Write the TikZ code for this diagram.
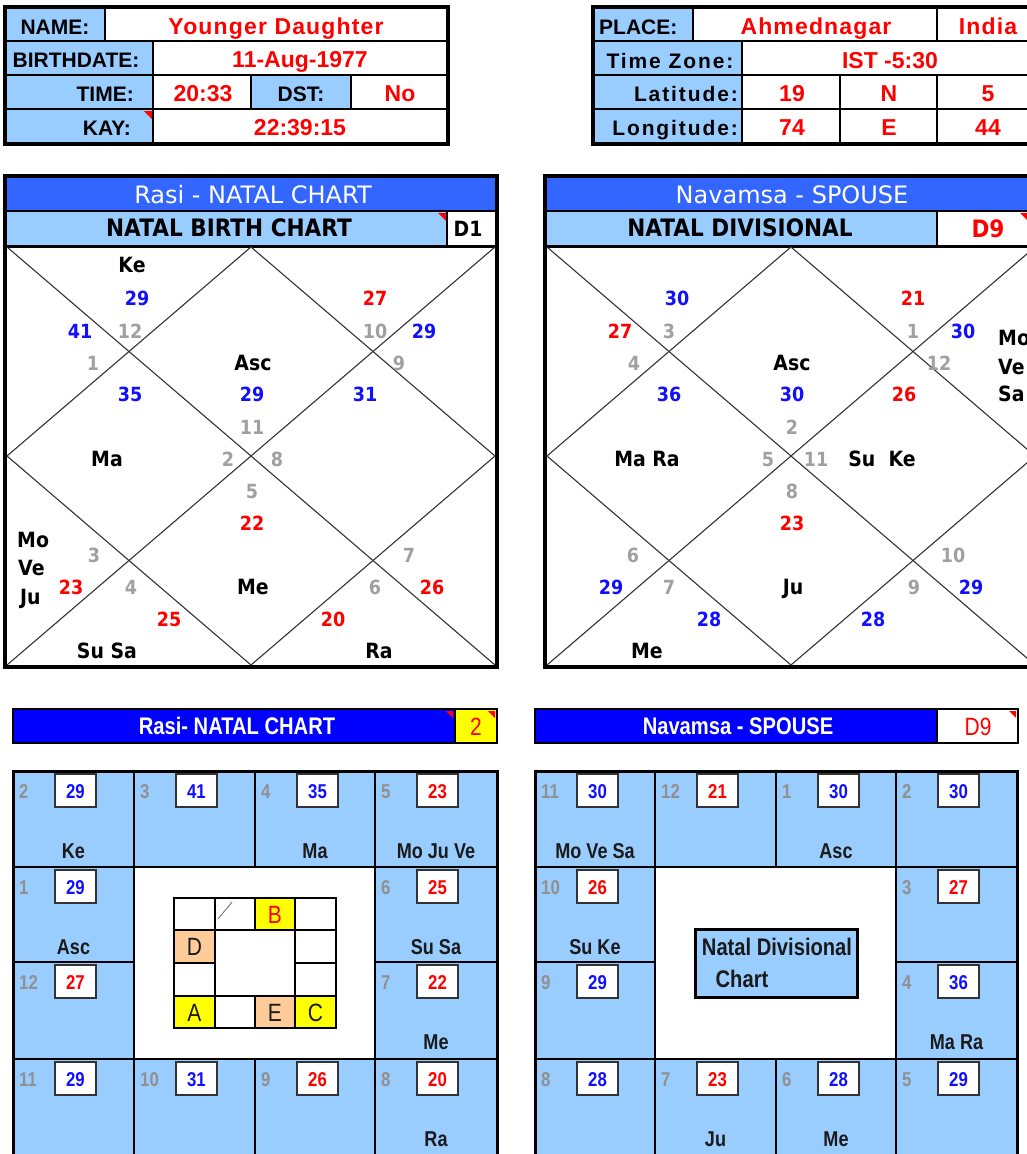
\documentclass[tikz,border=0pt]{standalone}
\usepackage{fontspec}
\setmainfont{Liberation Sans}
\newfontfamily\arls[LetterSpace=5]{Liberation Sans}
\newfontfamily\arlw[LetterSpace=9]{Liberation Sans}
\newfontfamily\tah[FakeStretch=0.9]{DejaVu Sans}
\newfontfamily\tahr{DejaVu Sans}
\newfontfamily\nar[FakeStretch=0.84]{Liberation Sans}
\definecolor{lb}{HTML}{99CCFF}
\definecolor{hb}{HTML}{3366FF}
\definecolor{bb}{HTML}{0000FF}
\definecolor{rd}{HTML}{FF0000}
\definecolor{nb}{HTML}{1010FF}
\definecolor{gr}{HTML}{A0A0A0}
\definecolor{gh}{HTML}{909090}
\definecolor{yl}{HTML}{FFFF00}
\definecolor{pc}{HTML}{FFCC99}
\definecolor{dl}{HTML}{333333}
\definecolor{pk}{HTML}{1A1A1A}
\newcounter{nn}
\newcommand\tx[4]{\stepcounter{nn}\node[#1] (t\arabic{nn}) at (#2,#3) {#4};}
% grid cell: x0 y0 x1 y1 house numcolor degree planets
\newcommand\gc[8]{%
 \stepcounter{nn}%
 \draw[gcell] (#1,#2) rectangle (#3,#4);
 \node[ghs, anchor=west] (h\arabic{nn}) at ({#1+6},{#2+20}) {#5};
 \draw[wbox] ({#1+42},{#2+3}) rectangle ({#1+83},{#2+36});
 \node[gn, text=#6] (d\arabic{nn}) at ({#1+62.5},{#2+20}) {#7};
 \node[gp] (p\arabic{nn}) at ({(#1+#3)/2},{#2+80}) {#8};
}
% inner small grid cell: x0 y0 x1 y1 fill text colour
\newcommand\ic[7]{%
 \stepcounter{nn}%
 \draw[ibox, fill=#5] (#1,#2) rectangle (#3,#4);
 \node[il, text=#7] (i\arabic{nn}) at ({(#1+#3)/2},{(#2+#4)/2}) {#6};
}
\tikzset{
 cellb/.style={draw=black, line width=2.6},
 lab/.style={inner sep=0, anchor=base, font=\fontsize{21}{21}\selectfont\bfseries},
 labw/.style={lab, font=\arlw\fontsize{21}{21}\selectfont\bfseries},
 val/.style={inner sep=0, anchor=base, text=rd, font=\fontsize{23}{23}\selectfont\bfseries},
 vals/.style={val, font=\arls\fontsize{23}{23}\selectfont\bfseries},
 hdr/.style={inner sep=0, text=white, font=\tahr\fontsize{24}{24}\selectfont, text height=17.5, text depth=0},
 sub/.style={inner sep=0, font=\tah\fontsize{24}{24}\selectfont\bfseries, text height=17.5, text depth=0},
 dp/.style={inner sep=0, font=\tah\fontsize{21}{21}\selectfont\bfseries, text height=15.3, text depth=0},
 dnum/.style={inner sep=0, font=\tah\fontsize{19.5}{19.5}\selectfont\bfseries, text height=14.2, text depth=0},
 db/.style={dnum, text=nb},
 dr/.style={dnum, text=rd},
 dg/.style={dnum, text=gr},
 dline/.style={draw=dl, line width=1.1},
 gcell/.style={draw=black, line width=2.6, fill=lb},
 wbox/.style={draw=black!80, line width=1.3, fill=white},
 ghs/.style={inner sep=0, text=gh, font=\nar\fontsize{20}{20}\selectfont\bfseries, text height=14.3, text depth=0},
 gn/.style={inner sep=0, font=\nar\fontsize{20}{20}\selectfont\bfseries, text height=14.3, text depth=0},
 gp/.style={inner sep=0, text=pk, font=\nar\fontsize{21.5}{21.5}\selectfont\bfseries, text height=15.4, text depth=0},
 bh/.style={inner sep=0, text=white, font=\nar\fontsize{24}{24}\selectfont\bfseries, text height=17.3, text depth=0},
 bv/.style={inner sep=0, text=rd, font=\nar\fontsize{25}{25}\selectfont, text height=18, text depth=0},
 ibox/.style={draw=black, line width=2.6},
 il/.style={inner sep=0, font=\nar\fontsize{25}{25}\selectfont, text height=18, text depth=0},
 ctext/.style={inner sep=0, text=pk, font=\nar\fontsize{24}{24}\selectfont\bfseries, text height=17.3, text depth=0},
}
\begin{document}
\begin{tikzpicture}[x=1pt,y=-1pt]
\useasboundingbox (0,0) rectangle (1027,1154);
\clip (0,0) rectangle (1027,1154);
\fill[white] (0,0) rectangle (1027,1154);

% ---------- top-left table ----------
\draw[cellb,fill=lb] (5,7) rectangle (105,41);
\draw[cellb,fill=white] (105,7) rectangle (448,41);
\draw[cellb,fill=lb] (5,41) rectangle (153,75);
\draw[cellb,fill=white] (153,41) rectangle (448,75);
\draw[cellb,fill=lb] (5,75) rectangle (153,109);
\draw[cellb,fill=white] (153,75) rectangle (251,109);
\draw[cellb,fill=lb] (251,75) rectangle (351,109);
\draw[cellb,fill=white] (351,75) rectangle (448,109);
\draw[cellb,fill=lb] (5,109) rectangle (153,144);
\draw[cellb,fill=white] (153,109) rectangle (448,144);
\fill[rd] (144,111) -- (152,111) -- (152,119) -- cycle;
\draw[line width=3.2] (5,7) rectangle (448,144);
\tx{lab}{55}{34}{NAME:}
\tx{vals}{276}{34}{Younger Daughter}
\tx{lab}{76}{67}{BIRTHDATE:}
\tx{val}{300}{67}{11-Aug-1977}
\tx{lab,anchor=base east}{134}{101}{TIME:}
\tx{val}{203}{101}{20:33}
\tx{lab}{301}{101}{DST:}
\tx{val}{400}{101}{No}
\tx{lab,anchor=base east}{131}{135}{KAY:}
\tx{val}{300}{135}{22:39:15}

% ---------- top-right table ----------
\draw[cellb,fill=lb] (593,7) rectangle (693,41);
\draw[cellb,fill=white] (693,7) rectangle (937,41);
\draw[cellb,fill=white] (937,7) rectangle (1040,41);
\draw[cellb,fill=lb] (593,41) rectangle (742,75);
\draw[cellb,fill=white] (742,41) rectangle (1040,75);
\draw[cellb,fill=lb] (593,75) rectangle (742,109);
\draw[cellb,fill=white] (742,75) rectangle (840,109);
\draw[cellb,fill=white] (840,75) rectangle (937,109);
\draw[cellb,fill=white] (937,75) rectangle (1040,109);
\draw[cellb,fill=lb] (593,109) rectangle (742,144);
\draw[cellb,fill=white] (742,109) rectangle (840,144);
\draw[cellb,fill=white] (840,109) rectangle (937,144);
\draw[cellb,fill=white] (937,109) rectangle (1040,144);
\draw[line width=3.2] (593,7) rectangle (1040,144);
\tx{lab,anchor=base west}{599}{34}{PLACE:}
\tx{vals}{816}{34}{Ahmednagar}
\tx{vals}{988}{34}{India}
\tx{labw}{670}{68}{Time Zone:}
\tx{val}{890}{68}{IST -5:30}
\tx{labw,anchor=base east}{738}{101}{Latitude:}
\tx{val}{792}{101}{19}
\tx{val}{889}{101}{N}
\tx{val}{988}{101}{5}
\tx{labw,anchor=base east}{738}{135}{Longitude:}
\tx{val}{792}{135}{74}
\tx{val}{889}{135}{E}
\tx{val}{988}{135}{44}

% ---------- left diamond chart ----------
\fill[white] (5,176) rectangle (497,667);
\fill[hb] (6,177) rectangle (496,211);
\fill[lb] (6,211) rectangle (447,246);
\draw[line width=2.6] (5,211) -- (497,211);
\draw[line width=2.6] (447,211) -- (447,246);
\draw[line width=2.6] (5,246.5) -- (497,246.5);
\fill[rd] (438,213) -- (446,213) -- (446,221) -- cycle;
\draw[dline] (7,247) -- (495,665);
\draw[dline] (7,665) -- (495,247);
\draw[dline] (251,247) -- (495,456) -- (251,665) -- (7,456) -- cycle;
\draw[line width=3.2] (5,176) rectangle (497,667);
\tx{hdr}{253}{195}{Rasi - NATAL CHART}
\tx{sub}{229}{228}{NATAL BIRTH CHART}
\tx{sub,font=\tah\fontsize{21}{21}\selectfont\bfseries,text height=15.3}{468}{229}{D1}
% planets
\tx{dp}{132}{265}{Ke}
\tx{dp}{253}{363}{Asc}
\tx{dp}{107}{459}{Ma}
\tx{dp}{253}{587}{Me}
\tx{dp}{107}{651}{Su Sa}
\tx{dp}{379}{651}{Ra}
\tx{dp,anchor=west}{17}{540}{Mo}
\tx{dp,anchor=west}{18}{568}{Ve}
\tx{dp,anchor=west}{20}{597}{Ju}
% degrees
\tx{db}{137}{298}{29}
\tx{db}{80}{331}{41}
\tx{db}{424}{331}{29}
\tx{db}{130}{394}{35}
\tx{db}{252}{394}{29}
\tx{db}{365}{394}{31}
\tx{dr}{375}{298}{27}
\tx{dr}{252}{523}{22}
\tx{dr}{71}{587}{23}
\tx{dr}{432}{587}{26}
\tx{dr}{169}{619}{25}
\tx{dr}{333}{619}{20}
% houses
\tx{dg}{130}{331}{12}
\tx{dg}{375}{331}{10}
\tx{dg}{93}{363}{1}
\tx{dg}{399}{363}{9}
\tx{dg}{252}{427}{11}
\tx{dg}{228}{459}{2}
\tx{dg}{277}{459}{8}
\tx{dg}{252}{491}{5}
\tx{dg}{94}{555}{3}
\tx{dg}{409}{555}{7}
\tx{dg}{131}{587}{4}
\tx{dg}{375}{587}{6}

% ---------- right diamond chart ----------
\fill[white] (545,176) rectangle (1045,667);
\fill[hb] (546,177) rectangle (1045,211);
\fill[lb] (546,211) rectangle (937,246);
\draw[line width=2.6] (545,211) -- (1045,211);
\draw[line width=2.6] (937,211) -- (937,246);
\draw[line width=2.6] (545,246.5) -- (1045,246.5);
\fill[rd] (1020,213) -- (1028,213) -- (1028,221) -- cycle;
\draw[dline] (547,247) -- (1035,665);
\draw[dline] (547,665) -- (1035,247);
\draw[dline] (791,247) -- (1035,456) -- (791,665) -- (547,456) -- cycle;
\draw[line width=3.2] (545,176) rectangle (1045,667);
\tx{hdr}{792}{195}{Navamsa - SPOUSE}
\tx{sub}{740}{228}{NATAL DIVISIONAL}
\tx{sub,text=rd}{988}{229}{D9}
% planets
\tx{dp}{792}{363}{Asc}
\tx{dp}{647}{459}{Ma Ra}
\tx{dp}{882}{459}{Su\ \ Ke}
\tx{dp}{793}{587}{Ju}
\tx{dp}{647}{651}{Me}
\tx{dp,anchor=west}{998}{338}{Mo}
\tx{dp,anchor=west}{998}{367}{Ve}
\tx{dp,anchor=west}{998}{394}{Sa}
% degrees
\tx{db}{677}{298}{30}
\tx{db}{963}{331}{30}
\tx{db}{669}{394}{36}
\tx{db}{792}{394}{30}
\tx{db}{611}{587}{29}
\tx{db}{971}{587}{29}
\tx{db}{709}{619}{28}
\tx{db}{873}{619}{28}
\tx{dr}{913}{298}{21}
\tx{dr}{620}{331}{27}
\tx{dr}{904}{394}{26}
\tx{dr}{792}{523}{23}
% houses
\tx{dg}{669}{331}{3}
\tx{dg}{913}{331}{1}
\tx{dg}{634}{363}{4}
\tx{dg}{939}{363}{12}
\tx{dg}{792}{427}{2}
\tx{dg}{768}{459}{5}
\tx{dg}{816}{459}{11}
\tx{dg}{792}{491}{8}
\tx{dg}{633}{555}{6}
\tx{dg}{953}{555}{10}
\tx{dg}{669}{587}{7}
\tx{dg}{914}{587}{9}

% ---------- bottom-left header ----------
\draw[line width=2.6, fill=bb] (13,709) rectangle (455,743);
\draw[line width=2.6, fill=yl] (455,709) rectangle (497,743);
\fill[rd] (446,711) -- (453,711) -- (453,718) -- cycle;
\fill[rd] (488,711) -- (495,711) -- (495,718) -- cycle;
\tx{bh}{237}{726}{Rasi- NATAL CHART}
\tx{bv}{476}{726}{2}

% ---------- bottom-right header ----------
\draw[line width=2.6, fill=bb] (535,709) rectangle (937,743);
\draw[line width=2.6, fill=white] (937,709) rectangle (1018,743);
\fill[rd] (1009,711) -- (1016,711) -- (1016,718) -- cycle;
\tx{bh}{738}{726}{Navamsa - SPOUSE}
\tx{bv}{978}{726}{D9}

% ---------- bottom-left grid ----------
\draw[line width=1.5, fill=white] (134,867) rectangle (375,1059);
\gc{13}{771}{134}{867}{2}{nb}{29}{Ke}
\gc{134}{771}{255}{867}{3}{nb}{41}{}
\gc{255}{771}{375}{867}{4}{nb}{35}{Ma}
\gc{375}{771}{497}{867}{5}{rd}{23}{Mo Ju Ve}
\gc{13}{867}{134}{962}{1}{nb}{29}{Asc}
\gc{375}{867}{497}{962}{6}{rd}{25}{Su Sa}
\gc{13}{962}{134}{1059}{12}{rd}{27}{}
\gc{375}{962}{497}{1059}{7}{rd}{22}{Me}
\gc{13}{1059}{134}{1162}{11}{nb}{29}{}
\gc{134}{1059}{255}{1162}{10}{nb}{31}{}
\gc{255}{1059}{375}{1162}{9}{rd}{26}{}
\gc{375}{1059}{497}{1162}{8}{rd}{20}{Ra}
\draw[line width=3] (13,771) rectangle (497,1162);
% inner small grid
\ic{174}{898}{215}{930}{white}{}{black}
\ic{215}{898}{255}{930}{white}{}{black}
\ic{255}{898}{295}{930}{yl}{B}{rd}
\ic{295}{898}{336}{930}{white}{}{black}
\ic{174}{930}{215}{963}{pc}{D}{pk}
\ic{295}{930}{336}{963}{white}{}{black}
\ic{174}{963}{215}{996}{white}{}{black}
\ic{295}{963}{336}{996}{white}{}{black}
\ic{174}{996}{215}{1028}{yl}{A}{pk}
\ic{215}{996}{255}{1028}{white}{}{black}
\ic{255}{996}{295}{1028}{pc}{E}{pk}
\ic{295}{996}{336}{1028}{yl}{C}{pk}
\draw[ibox, fill=white] (215,930) rectangle (295,996);
\draw[ibox] (174,898) rectangle (336,1028);
\draw[gray, line width=1] (218,919) -- (232,902);

% ---------- bottom-right grid ----------
\draw[line width=1.5, fill=white] (655,867) rectangle (896,1059);
\gc{535}{771}{655}{867}{11}{nb}{30}{Mo Ve Sa}
\gc{655}{771}{776}{867}{12}{rd}{21}{}
\gc{776}{771}{896}{867}{1}{nb}{30}{Asc}
\gc{896}{771}{1017}{867}{2}{nb}{30}{}
\gc{535}{867}{655}{962}{10}{rd}{26}{Su Ke}
\gc{896}{867}{1017}{962}{3}{rd}{27}{}
\gc{535}{962}{655}{1059}{9}{nb}{29}{}
\gc{896}{962}{1017}{1059}{4}{nb}{36}{Ma Ra}
\gc{535}{1059}{655}{1162}{8}{nb}{28}{}
\gc{655}{1059}{776}{1162}{7}{rd}{23}{Ju}
\gc{776}{1059}{896}{1162}{6}{nb}{28}{Me}
\gc{896}{1059}{1017}{1162}{5}{nb}{29}{}
\draw[line width=3] (535,771) rectangle (1017,1162);
\draw[line width=3, fill=lb] (695,929) rectangle (857,997);
\tx{ctext}{777}{947}{Natal Divisional}
\tx{ctext}{742}{979}{Chart}
\end{tikzpicture}
\end{document}
